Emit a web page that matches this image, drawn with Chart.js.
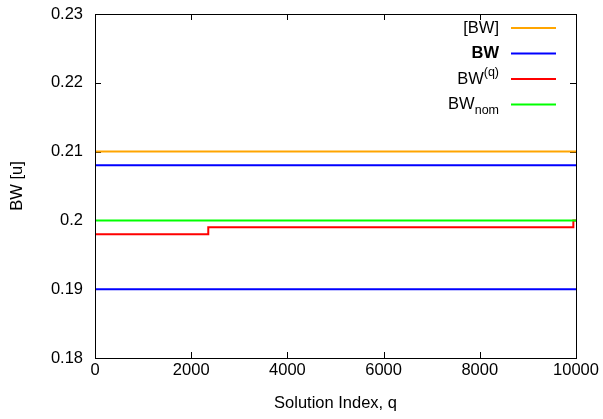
<!DOCTYPE html>
<html>
<head>
<meta charset="utf-8">
<script src="https://cdn.jsdelivr.net/npm/chart.js@4.4.1/dist/chart.umd.min.js"></script>
<style>
    html, body { margin: 0; padding: 0; background: #fff; }
    #wrap { width: 603px; height: 419px; }
</style>
</head>
<body>
<div id="wrap"><canvas id="bwChart" width="603" height="419"></canvas></div>
<script>
    // bandwidth bounds over the solution index q
    const qSpan = [0, 10000];
    const bwHull = [0.21, 0.21];        // [BW]
    const bwUpper = [0.208, 0.208];     // BW (upper bound)
    const bwLower = [0.19, 0.19];       // BW (lower bound)
    const bwNom = [0.2, 0.2];           // BW_nom
    const stepQ = [0, 2355, 9945, 10000];
    const bwStep = [0.198, 0.199, 0.2, 0.2]; // BW^(q)

    const xTicks = [0, 2000, 4000, 6000, 8000, 10000];
    const yTicks = [0.18, 0.19, 0.2, 0.21, 0.22, 0.23];

    const FONT = "'Liberation Sans', Arial, sans-serif";
    const FS = 16.5;
    const pts = (xs, ys) => xs.map((x, i) => ({ x, y: ys[i] }));

    // legend entries: text parts are [text, style] where style is '', 'b', 'sup' or 'sub'
    const legendItems = [
        { parts: [['[BW]', '']], color: '#ffa500' },
        { parts: [['BW', 'b']], color: '#0000ff' },
        { parts: [['BW', ''], ['(q)', 'sup']], color: '#ff0000' },
        { parts: [['BW', ''], ['nom', 'sub']], color: '#00ff00' }
    ];

    const frame = {
        id: 'frame',
        // inward ticks on all four sides, under the data lines
        beforeDatasetsDraw(chart) {
            const { ctx, chartArea: a, scales: { x, y } } = chart;
            ctx.save();
            ctx.strokeStyle = '#000';
            ctx.lineWidth = 1;
            ctx.beginPath();
            xTicks.forEach(v => {
                const px = Math.round(x.getPixelForValue(v)) + 0.5;
                ctx.moveTo(px, a.bottom); ctx.lineTo(px, a.bottom - 6);
                ctx.moveTo(px, a.top); ctx.lineTo(px, a.top + 6);
            });
            yTicks.forEach(v => {
                const py = Math.round(y.getPixelForValue(v)) + 0.5;
                ctx.moveTo(a.left, py); ctx.lineTo(a.left + 6, py);
                ctx.moveTo(a.right, py); ctx.lineTo(a.right - 6, py);
            });
            ctx.stroke();
            ctx.restore();
        },
        afterDatasetsDraw(chart) {
            const { ctx, chartArea: a } = chart;
            ctx.save();
            ctx.strokeStyle = '#000';
            ctx.lineWidth = 1;
            ctx.strokeRect(Math.round(a.left) + 0.5, Math.round(a.top) + 0.5,
                Math.round(a.right - a.left), Math.round(a.bottom - a.top));

            // legend in the top right corner
            const textRight = 499, lineX0 = 511, lineX1 = 556;
            legendItems.forEach((item, i) => {
                const yy = 28 + i * 25.5;
                // measure the label first so it can be right aligned
                const runs = item.parts.map(([t, s]) => {
                    const size = (s === 'sup' || s === 'sub') ? 12.5 : FS;
                    const f = (s === 'b' ? 'bold ' : '') + size + 'px ' + FONT;
                    ctx.font = f;
                    return { t, s, f, w: ctx.measureText(t).width };
                });
                let cx = textRight - runs.reduce((acc, r) => acc + r.w, 0);
                ctx.fillStyle = '#000';
                ctx.textBaseline = 'middle';
                ctx.textAlign = 'left';
                runs.forEach(r => {
                    ctx.font = r.f;
                    const dy = r.s === 'sup' ? -6 : r.s === 'sub' ? 6 : 0;
                    ctx.fillText(r.t, cx, yy + dy);
                    cx += r.w;
                });
                ctx.strokeStyle = item.color;
                ctx.lineWidth = 2;
                ctx.beginPath();
                ctx.moveTo(lineX0, yy); ctx.lineTo(lineX1, yy);
                ctx.stroke();
            });
            ctx.restore();
        }
    };

    const line = (label, data, color, order, extra) => Object.assign({
        label, data, borderColor: color, borderWidth: 2,
        pointRadius: 0, fill: false, tension: 0, order
    }, extra || {});

    new Chart(document.getElementById('bwChart'), {
        type: 'line',
        data: {
            datasets: [
                line('[BW]', pts(qSpan, bwHull), '#ffa500', 4),
                line('BW', pts(qSpan, bwUpper), '#0000ff', 3),
                line('BW', pts(qSpan, bwLower), '#0000ff', 3),
                line('BW(q)', pts(stepQ, bwStep), '#ff0000', 2, { stepped: true }),
                line('BWnom', pts(qSpan, bwNom), '#00ff00', 1)
            ]
        },
        options: {
            responsive: false,
            animation: false,
            layout: { autoPadding: false, padding: { left: 0, right: 27, top: 14, bottom: 0 } },
            plugins: { legend: { display: false }, tooltip: { enabled: false } },
            scales: {
                x: {
                    type: 'linear', min: 0, max: 10000,
                    afterFit: s => { s.height = 61; },
                    afterBuildTicks: s => { s.ticks = xTicks.map(v => ({ value: v })); },
                    grid: { display: false, drawTicks: false },
                    border: { display: false },
                    ticks: { color: '#000', padding: 3, maxRotation: 0, font: { family: FONT, size: FS },
                        callback: v => String(v) },
                    title: { display: true, text: 'Solution Index, q', color: '#000',
                        font: { family: FONT, size: FS }, padding: { top: 0, bottom: 6 } }
                },
                y: {
                    min: 0.18, max: 0.23,
                    // fixed width; label padding must not push the plot area down
                    afterFit: s => { s.width = 95; s.paddingTop = 0; s.paddingBottom = 0; },
                    afterBuildTicks: s => { s.ticks = yTicks.map(v => ({ value: v })); },
                    grid: { display: false, drawTicks: false },
                    border: { display: false },
                    ticks: { color: '#000', padding: 12, font: { family: FONT, size: FS },
                        callback: v => String(Number(v.toFixed(2))) },
                    title: { display: true, text: 'BW [u]', color: '#000',
                        font: { family: FONT, size: FS }, padding: { top: 8, bottom: 0 } }
                }
            }
        },
        plugins: [frame]
    });
</script>
</body>
</html>
